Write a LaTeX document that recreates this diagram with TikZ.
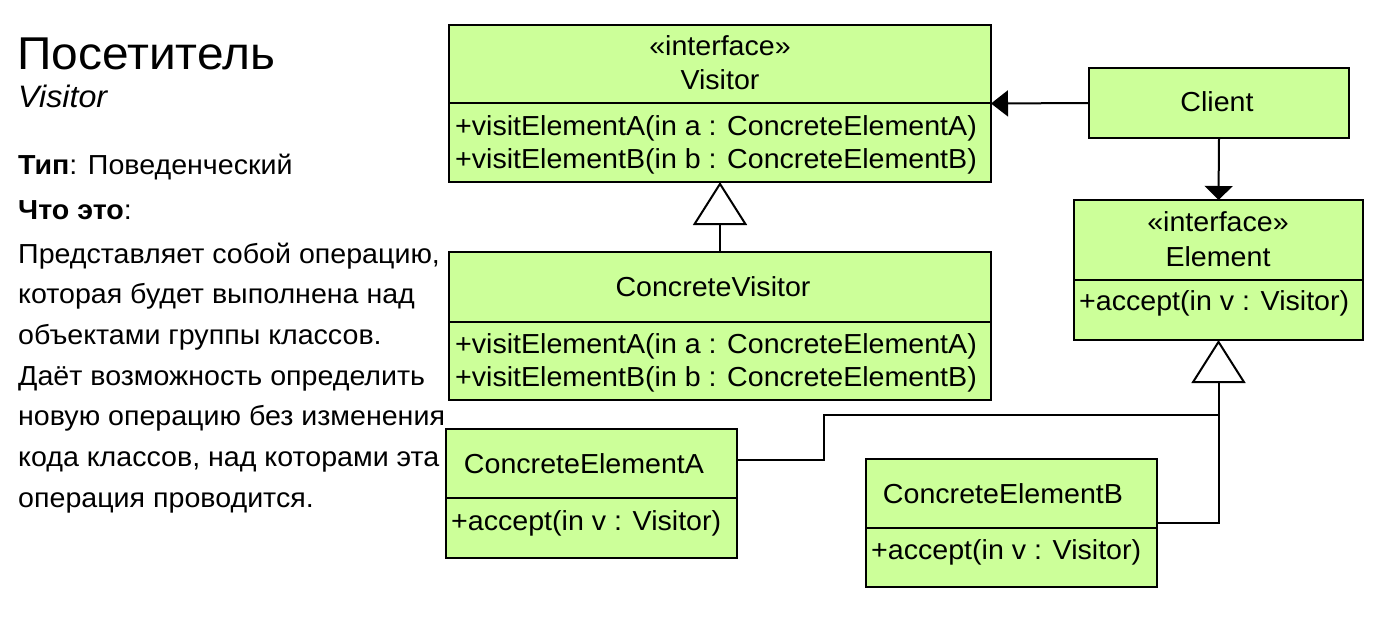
\documentclass[tikz,border=0pt]{standalone}
\usepackage{fontspec}
\setmainfont{Liberation Sans}[FakeStretch=1.04]
\usetikzlibrary{arrows.meta}
\definecolor{boxgreen}{RGB}{204,255,153}
\begin{document}
\begin{tikzpicture}[x=1pt,y=-1pt,
  cls/.style={draw=black, line width=2.5pt, fill=boxgreen, anchor=north west, inner sep=0pt, outer sep=0pt},
  divl/.style={line width=2.5pt},
  txt/.style={anchor=base, inner sep=0pt, font=\fontsize{27.5}{32}\selectfont},
  mtxt/.style={anchor=base west, inner sep=0pt, font=\fontsize{27.5}{32}\selectfont},
  ltxt/.style={anchor=base west, inner sep=0pt, font=\fontsize{27.5}{32}\selectfont},
  conn/.style={line width=2pt},
  hollow/.style={-{Triangle[open,width=54pt,length=43pt,fill=white]}},
  solid/.style={-{Triangle[width=26pt,length=17pt]}}
]
\useasboundingbox (0,0) rectangle (1384,630);

% left text
\node[ltxt, font=\fontsize{46}{52}\selectfont] (title) at (17,69) {Посетитель};
\node[ltxt, font=\fontsize{31}{36}\selectfont\itshape] (sub) at (18,107) {Visitor};
\node[ltxt] (typ) at (18,174) {\textbf{Тип}: Поведенческий};
\node[ltxt] (what) at (18,219) {\textbf{Что это}:};
\node[ltxt] (l1) at (18,263) {Представляет собой операцию,};
\node[ltxt] (l2) at (18,303.7) {которая будет выполнена над};
\node[ltxt] (l3) at (18,344.3) {объектами группы классов.};
\node[ltxt] (l4) at (18,385) {Даёт возможность определить};
\node[ltxt] (l5) at (18,425.7) {новую операцию без изменения};
\node[ltxt] (l6) at (18,466.3) {кода классов, над которами эта};
\node[ltxt] (l7) at (18,507) {операция проводится.};

% Visitor
\node[cls, minimum width=542pt, minimum height=157pt] (visitor) at (449,25) {};
\draw[divl] (visitor.west |- 0,103) -- (visitor.east |- 0,103);
\node[txt] (vst) at (720,55) {«interface»};
\node[txt] (vnm) at (720,89) {Visitor};
\node[mtxt] (vm1) at (455,135) {+visitElementA(in a : ConcreteElementA)};
\node[mtxt] (vm2) at (455,168) {+visitElementB(in b : ConcreteElementB)};

% ConcreteVisitor
\node[cls, minimum width=542pt, minimum height=148pt] (cv) at (449,252) {};
\draw[divl] (cv.west |- 0,322) -- (cv.east |- 0,322);
\node[txt] (cvn) at (713,296) {ConcreteVisitor};
\node[mtxt] (cvm1) at (455,353) {+visitElementA(in a : ConcreteElementA)};
\node[mtxt] (cvm2) at (455,386) {+visitElementB(in b : ConcreteElementB)};

% Client
\node[cls, minimum width=260pt, minimum height=70pt] (client) at (1089,68) {};
\node[txt] (cln) at (1217,111) {Client};

% Element
\node[cls, minimum width=289pt, minimum height=140pt] (element) at (1074,200) {};
\draw[divl] (element.west |- 0,280) -- (element.east |- 0,280);
\node[txt] (est) at (1218,231) {«interface»};
\node[txt] (enm) at (1218,266) {Element};
\node[mtxt] (em1) at (1079,310) {+accept(in v : Visitor)};

% ConcreteElementA
\node[cls, minimum width=291pt, minimum height=129pt] (ceA) at (446,429) {};
\draw[divl] (ceA.west |- 0,498) -- (ceA.east |- 0,498);
\node[txt] (cean) at (584,473) {ConcreteElementA};
\node[mtxt] (ceam) at (451,530) {+accept(in v : Visitor)};

% ConcreteElementB
\node[cls, minimum width=291pt, minimum height=128pt] (ceB) at (866,459) {};
\draw[divl] (ceB.west |- 0,528) -- (ceB.east |- 0,528);
\node[txt] (cebn) at (1003,503) {ConcreteElementB};
\node[mtxt] (cebm) at (871,559) {+accept(in v : Visitor)};

% connectors
\draw[conn, solid] (client.west) -- (visitor.east);
\draw[conn, -{Triangle[width=28pt,length=14pt]}] (client.south) -- (element.north);
\draw[conn, hollow] (cv.north) -- (visitor.south);
\coordinate (j) at (1219,415);
\draw[conn] (ceA.east |- 0,460) -- (824,460) -- (824,415) -- (j);
\draw[conn, hollow] (ceB.east) -| (element.south);
\end{tikzpicture}
\end{document}
